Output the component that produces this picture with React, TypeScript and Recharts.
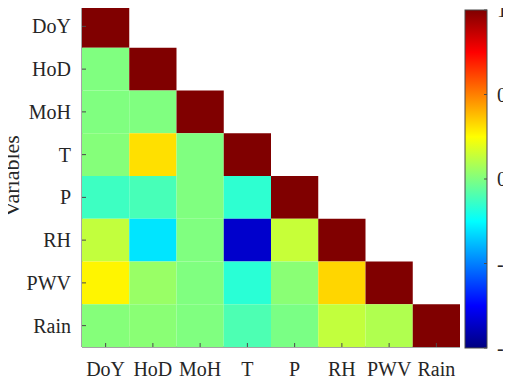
import { ScatterChart, Scatter, XAxis, YAxis } from "recharts"

const variables = ["DoY", "HoD", "MoH", "T", "P", "RH", "PWV", "Rain"]

// lower triangle of the correlation matrix, row by row
const corrRows: number[][] = [
  [1],
  [0.0, 1],
  [0.0, 0.0, 1],
  [0.01, 0.31, 0.0, 1],
  [-0.13, -0.11, 0.0, -0.16, 1],
  [0.13, -0.3, 0.0, -0.85, 0.14, 1],
  [0.27, 0.05, 0.0, -0.17, 0.02, 0.33, 1],
  [0.01, 0.02, 0.0, -0.1, -0.01, 0.13, 0.095, 1],
]

const colorbarTicks = [1, 0.5, 0, -0.5, -1]

const W = 511
const H = 386
const PLOT = { left: 82, top: 5, right: 460, bottom: 347 }
const CELL_W = (PLOT.right - PLOT.left) / variables.length
const CELL_H = (PLOT.bottom - PLOT.top) / variables.length
const BAR = { left: 465, right: 487, top: 10, bottom: 348 }
const FONT = "'Liberation Serif', 'DejaVu Serif', serif"
const FRAME = "#4a4a4a"
const TEXT = "#262626"

const clip = (v: number) => Math.max(0, Math.min(1, v))
function jet(v: number) {
  const t = (v + 1) / 2
  const r = clip(1.5 - Math.abs(4 * t - 3))
  const g = clip(1.5 - Math.abs(4 * t - 2))
  const b = clip(1.5 - Math.abs(4 * t - 1))
  return `rgb(${Math.round(r * 255)},${Math.round(g * 255)},${Math.round(b * 255)})`
}

const cells = corrRows.flatMap((row, i) =>
  row.map((v, j) => ({ x: j + 1, y: i + 1, v }))
)

const idx = [1, 2, 3, 4, 5, 6, 7, 8]

const CellShape = (props: any) => {
  const { cx, cy, payload } = props
  return (
    <rect
      x={cx - CELL_W / 2}
      y={cy - CELL_H / 2}
      width={CELL_W}
      height={CELL_H}
      fill={jet(payload.v)}
    />
  )
}

const BottomTick = (props: any) => {
  const { x, y, payload } = props
  return (
    <g>
      <line x1={x} x2={x} y1={y} y2={y - 4} stroke={FRAME} />
      <text x={x} y={y + 29} textAnchor="middle" fontSize={20} fontFamily={FONT} fill={TEXT}>
        {variables[payload.value - 1]}
      </text>
    </g>
  )
}

const LeftTick = (props: any) => {
  const { x, y, payload } = props
  return (
    <g>
      <line x1={x} x2={x + 4} y1={y} y2={y} stroke={FRAME} />
      <text x={x - 11} y={y + 7} textAnchor="end" fontSize={20} fontFamily={FONT} fill={TEXT}>
        {variables[payload.value - 1]}
      </text>
    </g>
  )
}

const TopTick = (props: any) => {
  const { x, y } = props
  return <line x1={x} x2={x} y1={y} y2={y + 4} stroke={FRAME} />
}

const RightTick = (props: any) => {
  const { x, y } = props
  return <line x1={x} x2={x - 4} y1={y} y2={y} stroke={FRAME} />
}

function Colorbar() {
  const yOf = (v: number) => BAR.top + ((1 - v) / 2) * (BAR.bottom - BAR.top)
  const stops = [
    { o: 0, c: jet(1) },
    { o: 0.125, c: jet(0.75) },
    { o: 0.375, c: jet(0.25) },
    { o: 0.5, c: jet(0) },
    { o: 0.625, c: jet(-0.25) },
    { o: 0.875, c: jet(-0.75) },
    { o: 1, c: jet(-1) },
  ]
  return (
    <svg
      width={W}
      height={H}
      style={{ position: "absolute", left: 0, top: 0, pointerEvents: "none" }}
    >
      <defs>
        <linearGradient id="jetGrad" x1="0" y1="0" x2="0" y2="1">
          {stops.map((s) => (
            <stop key={s.o} offset={s.o} stopColor={s.c} />
          ))}
        </linearGradient>
      </defs>
      <rect
        x={BAR.left}
        y={BAR.top}
        width={BAR.right - BAR.left}
        height={BAR.bottom - BAR.top}
        fill="url(#jetGrad)"
        stroke={FRAME}
      />
      {colorbarTicks.map((t) => (
        <g key={t}>
          <line x1={BAR.right - 3} x2={BAR.right} y1={yOf(t)} y2={yOf(t)} stroke={FRAME} />
          <text x={497} y={yOf(t) + 7} fontSize={20} fontFamily={FONT} fill={TEXT}>
            {t}
          </text>
        </g>
      ))}
      <text
        transform={`translate(19, ${(PLOT.top + PLOT.bottom) / 2}) rotate(-90)`}
        textAnchor="middle"
        fontSize={22}
        fontFamily={FONT}
        fill={TEXT}
      >
        Variables
      </text>
    </svg>
  )
}

export default function App() {
  return (
    <div style={{ position: "relative", width: W, height: H, margin: -8, background: "#fff" }}>
      <ScatterChart
        width={W}
        height={H}
        margin={{ top: PLOT.top, right: W - PLOT.right, bottom: 0, left: 0 }}
      >
        <XAxis
          xAxisId="b"
          dataKey="x"
          type="number"
          domain={[0.5, 8.5]}
          ticks={idx}
          interval={0}
          height={H - PLOT.bottom}
          tickSize={0}
          tickMargin={0}
          tickLine={false}
          axisLine={{ stroke: FRAME }}
          tick={<BottomTick />}
        />
        <XAxis
          xAxisId="t"
          orientation="top"
          type="number"
          domain={[0.5, 8.5]}
          ticks={idx}
          interval={0}
          height={0}
          tickSize={0}
          tickMargin={0}
          tickLine={false}
          axisLine={{ stroke: FRAME }}
          tick={<TopTick />}
        />
        <YAxis
          yAxisId="l"
          dataKey="y"
          type="number"
          domain={[0.5, 8.5]}
          reversed
          ticks={idx}
          interval={0}
          width={PLOT.left}
          tickSize={0}
          tickMargin={0}
          tickLine={false}
          axisLine={{ stroke: FRAME }}
          tick={<LeftTick />}
        />
        <YAxis
          yAxisId="r"
          orientation="right"
          type="number"
          domain={[0.5, 8.5]}
          reversed
          ticks={idx}
          interval={0}
          width={0}
          tickSize={0}
          tickMargin={0}
          tickLine={false}
          axisLine={{ stroke: FRAME }}
          tick={<RightTick />}
        />
        <Scatter
          xAxisId="b"
          yAxisId="l"
          data={cells}
          shape={CellShape}
          isAnimationActive={false}
        />
      </ScatterChart>
      <Colorbar />
    </div>
  )
}
